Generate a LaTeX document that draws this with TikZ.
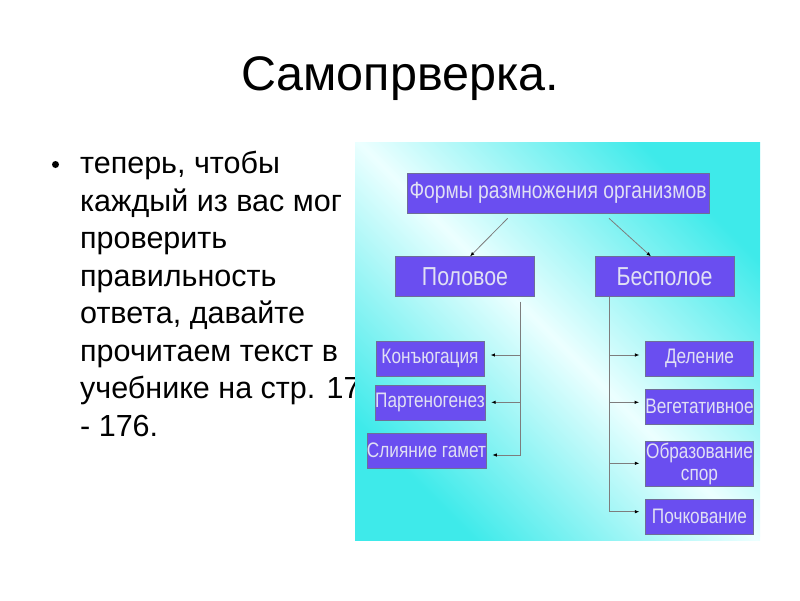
\documentclass[tikz,border=0pt]{standalone}
\usepackage{fontspec}
\setmainfont{Liberation Sans}
\newfontfamily\boxfont[FakeStretch=0.82]{Liberation Sans}
\usetikzlibrary{arrows.meta}
\definecolor{boxblue}{RGB}{106,78,240}
\definecolor{boxborder}{RGB}{110,110,150}
\definecolor{boxtext}{RGB}{224,224,244}
\definecolor{cyanA}{RGB}{62,234,234}
\definecolor{cyanL}{RGB}{236,255,255}
\definecolor{linegray}{RGB}{125,125,125}
\begin{document}
\begin{tikzpicture}[x=1pt,y=-1pt,
  box/.style={draw=boxborder, line width=0.6pt, fill=boxblue, text=boxtext,
    inner sep=0pt, align=center, font=\boxfont\fontsize{21}{22}\selectfont},
  bigbox/.style={box, font=\boxfont\fontsize{26}{28}\selectfont},
  topbox/.style={box, font=\boxfont\fontsize{23.5}{25}\selectfont},
  conn/.style={draw=linegray, line width=0.8pt,
    -{Latex[length=4.5pt,width=3.5pt,color=black]}},
  trunk/.style={draw=linegray, line width=0.8pt},
  bl/.style={anchor=base west, inner sep=0pt, font=\fontsize{30.5}{36}\selectfont}]
\useasboundingbox (0,0) rectangle (800,600);
\fill[white] (0,0) rectangle (800,600);

% title
\node (title) [anchor=base, inner sep=0pt, font=\fontsize{48.5}{52}\selectfont] at (400,90) {Самопрверка.};

% bullet text
\node (bullet) [circle, fill=black, inner sep=0pt, minimum size=7pt] at (55.5,164.5) {};
\foreach \i/\t in {1/{теперь, чтобы},2/{каждый из вас мог},3/{проверить},4/{правильность},5/{ответа, давайте},6/{прочитаем текст в},7/{учебнике на стр. 175},8/{- 176.}}{
  \node (l\i) [bl] at (80,{173.5+37.5*(\i-1)}) {\t};
}

% picture background
\shade[top color=cyanA, bottom color=cyanA, middle color=cyanL, shading angle=-45]
  (355,142) rectangle (760,540);

% boxes
\node (top) [topbox, minimum width=302pt, minimum height=40pt] at (558,193) {Формы размножения организмов};
\node (pol) [bigbox, minimum width=139pt, minimum height=40pt] at (465,276.7) {Половое};
\node (bes) [bigbox, minimum width=139pt, minimum height=40pt] at (664.5,276.7) {Бесполое};

\node (kon) [box, minimum width=108.3pt, minimum height=35pt] at (430,358.3) {Конъюгация};
\node (par) [box, minimum width=108.3pt, minimum height=35pt] at (430,402.5) {Партеногенез};
\node (sli) [box, minimum width=115pt, minimum height=35pt] at (426.5,450.5) {Слияние гамет};

\node (del) [box, minimum width=107.6pt, minimum height=35pt] at (699.5,358.3) {Деление};
\node (veg) [box, minimum width=107.6pt, minimum height=35pt] at (699.5,406.8) {Вегетативное};
\node (obr) [box, minimum width=107.6pt, minimum height=45pt] at (699.5,464.2) {Образование\\спор};
\node (poc) [box, minimum width=107.6pt, minimum height=35pt] at (699.5,516.8) {Почкование};

% connectors from the top box
\coordinate (tl) at (507.7,218.3);
\coordinate (tr) at (609,218.3);
\draw[conn] (tl) -- ([xshift=5pt]pol.north);
\draw[conn] (tr) -- ([xshift=-13.5pt]bes.north);

% left tree
\coordinate (lt) at (520.7,301.7);
\coordinate (lb) at (520.7,455);
\draw[trunk] (lt) -- (lb);
\coordinate (l1b) at (520.7,355);
\coordinate (l2b) at (520.7,402.3);
\draw[conn, shorten >=6pt] (l1b) -- (l1b -| kon.east);
\draw[conn, shorten >=6pt] (l2b) -- (l2b -| par.east);
\draw[conn, shorten >=6pt] (lb) -- (lb -| sli.east);

% right tree
\coordinate (rt) at (609,296.7);
\coordinate (rb) at (609,511.7);
\draw[trunk] (rt) -- (rb);
\coordinate (r1) at (609,355);
\coordinate (r2) at (609,402.3);
\coordinate (r3) at (609,463.3);
\draw[conn, shorten >=6pt] (r1) -- (r1 -| del.west);
\draw[conn, shorten >=6pt] (r2) -- (r2 -| veg.west);
\draw[conn, shorten >=6pt] (r3) -- (r3 -| obr.west);
\draw[conn, shorten >=6pt] (rb) -- (rb -| poc.west);
\end{tikzpicture}
\end{document}
